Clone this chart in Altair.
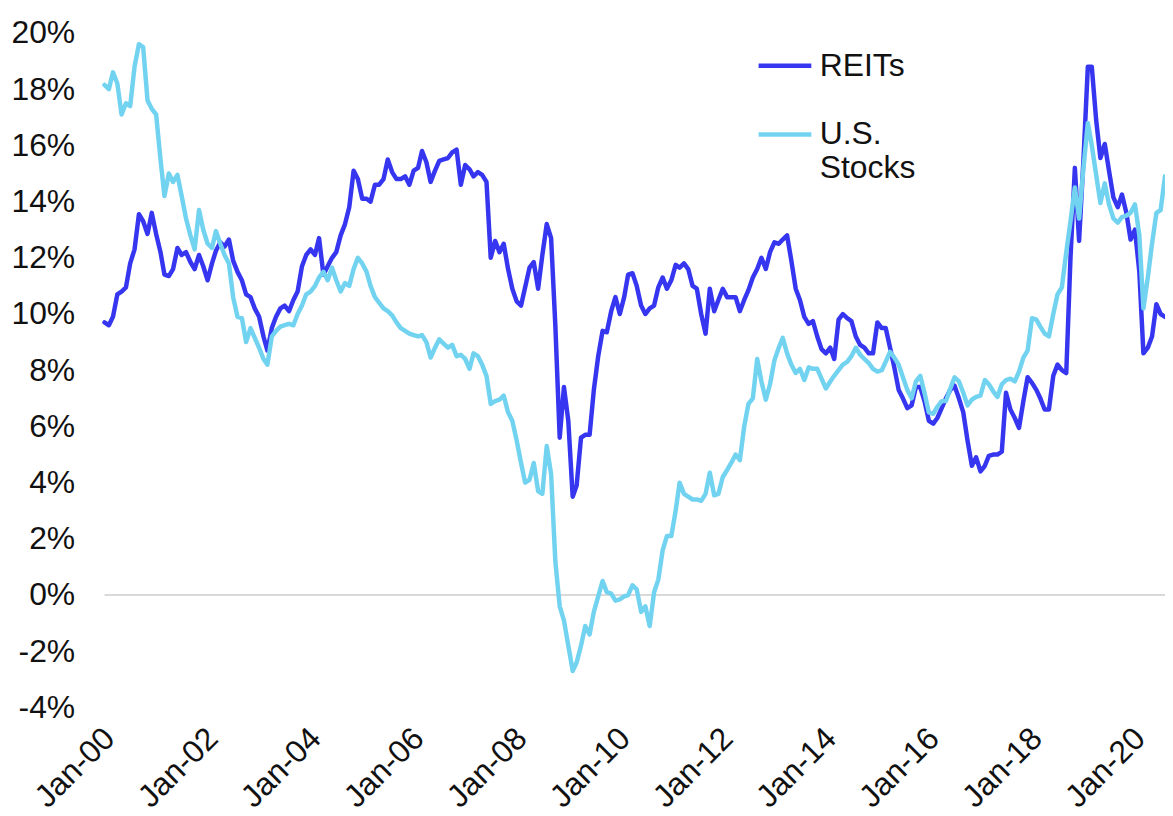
import altair as alt
import pandas as pd

# Monthly values, Jan 2000 .. Aug 2020 (percent)
reits = [
    9.7, 9.6, 9.9, 10.7, 10.8, 10.95, 11.8, 12.3, 13.55, 13.3, 12.85, 13.6,
    12.85, 12.2, 11.4, 11.35, 11.6, 12.35, 12.1, 12.2, 11.85, 11.6, 12.1, 11.7,
    11.2, 11.8, 12.25, 12.55, 12.4, 12.65, 11.9, 11.5, 11.2, 10.7, 10.6, 10.2,
    9.9, 9.2, 8.7, 9.5, 9.9, 10.2, 10.3, 10.1, 10.5, 10.8, 11.7, 12.1,
    12.3, 12.1, 12.7, 11.4, 11.7, 12.0, 12.2, 12.8, 13.2, 13.8, 15.1, 14.8,
    14.1, 14.1, 14.0, 14.6, 14.6, 14.8, 15.5, 15.05, 14.8, 14.8, 14.9, 14.6,
    15.1, 15.2, 15.8, 15.4, 14.7, 15.1, 15.45, 15.5, 15.55, 15.75, 15.85, 14.6,
    15.3, 15.15, 14.9, 15.05, 14.95, 14.7, 12.0, 12.6, 12.2, 12.5, 11.6, 10.9,
    10.45, 10.3, 10.95, 11.65, 11.85, 10.9, 12.1, 13.2, 12.7, 9.6, 5.6, 7.4,
    6.2, 3.5, 3.9, 5.6, 5.7, 5.7, 7.3, 8.5, 9.4, 9.35, 10.1, 10.6,
    10.0, 10.6, 11.4, 11.45, 11.0, 10.3, 10.0, 10.2, 10.3, 10.95, 11.3, 10.9,
    11.2, 11.75, 11.65, 11.8, 11.6, 11.0, 10.9, 10.0, 9.3, 10.9, 10.1, 10.5,
    10.9, 10.6, 10.6, 10.6, 10.1, 10.5, 10.85, 11.3, 11.6, 12.0, 11.6, 12.2,
    12.55, 12.5, 12.65, 12.8, 11.9, 10.9, 10.5, 9.9, 9.65, 9.75, 9.2, 8.75,
    8.6, 8.8, 8.4, 9.8, 10.0, 9.85, 9.75, 9.2, 8.9, 8.8, 8.6, 8.6,
    9.7, 9.5, 9.5, 8.8, 8.1, 7.3, 7.0, 6.65, 6.75, 7.4, 7.4, 6.9,
    6.2, 6.1, 6.3, 6.65, 7.0, 7.3, 7.45, 7.0, 6.5, 5.5, 4.6, 4.9,
    4.4, 4.6, 4.95, 5.0, 5.0, 5.1, 7.2, 6.6, 6.3, 5.95, 6.9, 7.75,
    7.55, 7.3, 7.0, 6.6, 6.6, 7.8, 8.2, 8.0, 7.9, 12.0, 15.2, 12.6,
    15.5, 18.8, 18.8, 16.9, 15.55, 16.05, 15.1, 14.15, 13.8, 14.25, 13.6, 12.65,
    13.0, 11.5, 8.6, 8.8, 9.2, 10.35, 10.0, 9.9,
]

stocks = [
    18.15, 18.0, 18.6, 18.2, 17.1, 17.5, 17.4, 18.8, 19.6, 19.5, 17.6, 17.3,
    17.1, 15.5, 14.2, 15.0, 14.7, 14.95, 14.2, 13.4, 12.8, 12.3, 13.7, 13.0,
    12.5, 12.35, 12.95, 12.5, 12.1, 11.8, 10.6, 9.9, 9.85, 9.0, 9.5, 9.15,
    8.8, 8.4, 8.2, 9.2, 9.4, 9.55, 9.6, 9.65, 9.6, 10.0, 10.3, 10.7,
    10.8, 11.0, 11.3, 11.5, 11.2, 11.65, 11.2, 10.8, 11.1, 11.0, 11.6, 12.0,
    11.8, 11.5, 11.0, 10.6, 10.4, 10.2, 10.1, 9.95, 9.7, 9.5, 9.4, 9.3,
    9.25, 9.2, 9.25, 9.0, 8.45, 8.8, 9.1, 8.95, 8.8, 8.9, 8.5, 8.55,
    8.4, 8.05, 8.6, 8.5, 8.2, 7.8, 6.8, 6.9, 6.95, 7.1, 6.5, 6.2,
    5.5, 4.7, 4.0, 4.1, 4.7, 3.7, 3.6, 5.3, 4.3, 1.2, -0.4, -0.9,
    -1.8, -2.7, -2.4, -1.8, -1.1, -1.4, -0.6, -0.05, 0.5, 0.1, 0.05, -0.2,
    -0.15, -0.05, 0.0, 0.35, 0.2, -0.6, -0.4, -1.1, 0.1, 0.55, 1.6, 2.1,
    2.1, 3.0, 4.0, 3.6, 3.5, 3.4, 3.4, 3.35, 3.6, 4.35, 3.55, 3.6,
    4.2, 4.45, 4.7, 5.0, 4.8, 6.0, 6.8, 7.0, 8.4, 7.6, 6.95, 7.5,
    8.35, 8.8, 9.15, 8.6, 8.2, 7.9, 8.05, 7.65, 8.1, 8.05, 8.05, 7.7,
    7.35, 7.6, 7.8, 8.0, 8.2, 8.3, 8.5, 8.8, 8.55, 8.4, 8.25, 8.05,
    7.95, 8.0, 8.3, 8.65, 8.45, 8.2, 7.75, 7.3, 7.0, 7.6, 7.8, 7.2,
    6.5, 6.45, 6.7, 6.9, 6.9, 7.35, 7.75, 7.6, 7.2, 6.75, 6.95, 7.05,
    7.1, 7.65, 7.5, 7.25, 7.05, 7.5, 7.65, 7.7, 7.6, 7.95, 8.45, 8.7,
    9.85, 9.8, 9.55, 9.3, 9.2, 10.0, 10.7, 10.95, 12.2, 13.3, 14.5, 13.4,
    15.2, 16.8, 16.0, 14.95, 13.95, 14.65, 13.9, 13.4, 13.25, 13.45, 13.5, 13.6,
    13.9, 12.8, 10.2, 11.3, 12.5, 13.6, 13.7, 14.9,
]

series_names = ["REITs", "U.S. Stocks"]
series_colors = ["#3636f0", "#72d3f1"]
y_ticks = list(range(-4, 21, 2))
x_tick_years = list(range(2000, 2021, 2))

dates = pd.date_range("2000-01-01", periods=len(reits), freq="MS").strftime("%Y-%m-%d")
df = pd.concat([
    pd.DataFrame({"date": dates, "value": reits, "series": series_names[0]}),
    pd.DataFrame({"date": dates, "value": stocks, "series": series_names[1]}),
], ignore_index=True)

FONT = "Liberation Sans"
FS = 32

x_enc = alt.X(
    "date:T",
    scale=alt.Scale(type="utc", domain=[alt.DateTime(year=2000, month=1, date=1, utc=True),
                                        alt.DateTime(year=2020, month=8, date=1, utc=True)]),
    axis=alt.Axis(
        title=None,
        values=[alt.DateTime(year=yy, month=1, date=1, utc=True) for yy in x_tick_years],
        labelExpr="utcFormat(datum.value, '%b-%y')",
        labelAngle=-45, labelFontSize=FS, labelFont=FONT, labelColor="#111111",
        labelPadding=15, labelOffset=-6, ticks=False, domain=False, grid=False,
        labelOverlap=False, labelFlush=False,
    ),
)
y_enc = alt.Y(
    "value:Q",
    scale=alt.Scale(domain=[-4, 20], nice=False, zero=False),
    axis=alt.Axis(
        title=None, values=y_ticks, labelExpr="datum.value + '%'",
        labelFontSize=FS, labelFont=FONT, labelColor="#111111",
        labelPadding=30, ticks=False, domain=False, grid=False,
    ),
)

zero_df = pd.DataFrame({"value": [0]})
zero_rule = alt.Chart(zero_df).mark_rule(color="#d9d9d9", strokeWidth=2).encode(y=alt.Y("value:Q"))

lines = alt.Chart(df).mark_line(strokeWidth=4.5, strokeJoin="round", strokeCap="round").encode(
    x=x_enc,
    y=y_enc,
    color=alt.Color(
        "series:N",
        scale=alt.Scale(domain=series_names, range=series_colors),
        legend=alt.Legend(
            title=None, orient="none", legendX=655, legendY=4,
            symbolType="stroke", symbolSize=2809, symbolStrokeWidth=4.5,
            labelFontSize=FS, labelFont=FONT, labelColor="#111111",
            labelOffset=6, rowPadding=24, labelLimit=400,
            labelExpr="datum.label == 'U.S. Stocks' ? ['U.S.', 'Stocks'] : datum.label",
        ),
    ),
    order=alt.Order("date:T"),
)

chart = alt.layer(zero_rule, lines).properties(
    width=1066, height=678,
    background="white",
    autosize=alt.AutoSizeParams(type="none"),
    padding={"left": 97, "top": 23, "right": 0, "bottom": 106},
).configure_view(strokeWidth=0, stroke="transparent").configure_axis(
    grid=False, domain=False
)

chart.save("out.html", embed_options={"renderer": "svg", "actions": False})
